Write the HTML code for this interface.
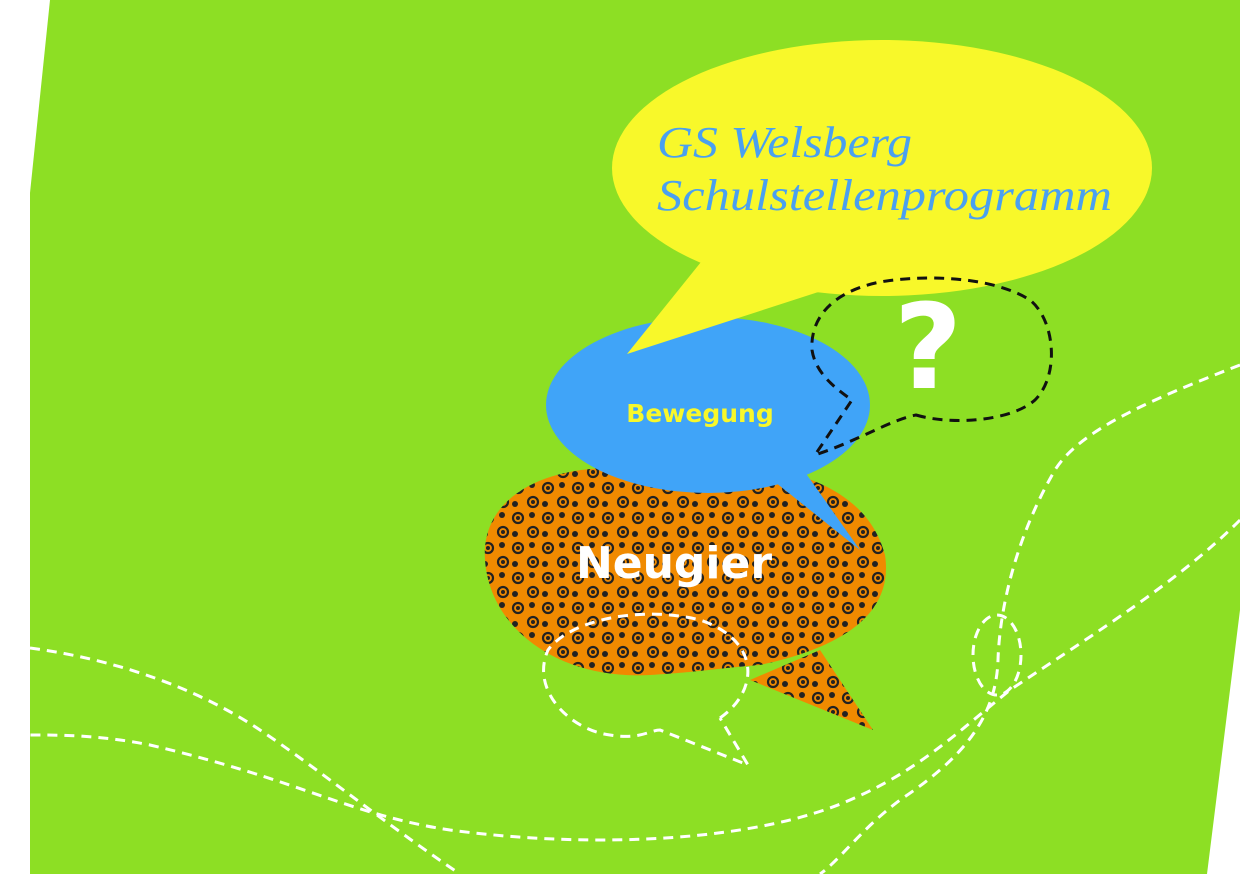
<!DOCTYPE html>
<html><head><meta charset="utf-8"><style>html,body{margin:0;padding:0;background:#fff}svg{display:block}</style></head>
<body>
<svg width="1240" height="874" viewBox="0 0 1240 874" xmlns="http://www.w3.org/2000/svg">
<defs>
<pattern id="pat" width="30" height="30" patternUnits="userSpaceOnUse">
<rect width="30" height="30" fill="#f08a00"/>
<g fill="none" stroke="#222" stroke-width="2.2">
<circle cx="8" cy="8" r="5"/><circle cx="23" cy="22" r="5"/>
</g>
<g fill="#222"><circle cx="8" cy="8" r="2"/><circle cx="23" cy="22" r="2"/><circle cx="22" cy="5" r="3"/><circle cx="5" cy="24" r="3"/></g>
</pattern>
</defs>
<polygon points="50,0 1240,0 1240,610 1207,874 30,874 30,193" fill="#8ddf24"/>
<g fill="none" stroke="#fff" stroke-width="3" stroke-dasharray="10,7">
<path d="M1240,365 C1150,400 1080,430 1055,470 C1020,530 1000,600 998,660 C996,720 960,760 900,800 C860,830 840,860 820,874"/>
<path d="M1240,520 C1180,580 1100,630 1010,690 C960,730 920,770 850,800 C760,840 600,850 450,830 C350,815 300,780 150,745 C100,735 60,735 30,735"/>
<path d="M30,648 C120,660 200,690 260,730 C320,770 380,820 460,874"/>
<ellipse cx="997" cy="655" rx="24" ry="40"/>
</g>
<ellipse cx="882" cy="168" rx="270" ry="128" fill="#f8f82a"/>
<path d="M750,680 L873,730 L820,650 Z" fill="url(#pat)"/>
<path d="M485,560 C480,490 560,460 640,470 C720,455 860,460 885,555 C895,620 830,650 760,665 C720,668 700,672 650,675 C560,680 490,630 485,560 Z" fill="url(#pat)"/>
<path d="M760,470 L860,550 L800,465 Z" fill="#40a4f8"/>
<ellipse cx="708" cy="405" rx="162" ry="88" fill="#40a4f8"/>
<path d="M627,354 L701,262 L860,270 L840,285 Z" fill="#f8f82a"/>
<g fill="none" stroke="#111" stroke-width="3" stroke-dasharray="10,7">
<path d="M916,415 C950,425 1010,422 1035,400 C1060,375 1055,320 1030,300 C990,275 920,275 880,282 C830,292 810,320 812,350 C815,370 830,385 852,400 L815,455 C860,440 890,420 916,415 Z"/>
</g>
<g fill="none" stroke="#fff" stroke-width="3" stroke-dasharray="10,7">
<path d="M720,718 C760,690 760,640 700,620 C640,605 570,620 548,650 C530,690 570,730 610,735 C640,740 650,730 660,730 L748,765 L720,718"/>
</g>
<text x="928" y="388" font-family="DejaVu Sans, sans-serif" font-weight="bold" font-size="118" fill="#fff" text-anchor="middle">?</text>
<text x="700" y="422" font-family="DejaVu Sans, sans-serif" font-weight="bold" font-size="25" fill="#f8f82a" text-anchor="middle">Bewegung</text>
<text x="674" y="578" font-family="DejaVu Sans, sans-serif" font-weight="bold" font-size="44" fill="#fff" text-anchor="middle">Neugier</text>
<text x="657" y="157" font-family="Liberation Serif, serif" font-style="italic" font-size="44" fill="#4aa0f0" textLength="255" lengthAdjust="spacingAndGlyphs">GS Welsberg</text>
<text x="657" y="210" font-family="Liberation Serif, serif" font-style="italic" font-size="44" fill="#4aa0f0" textLength="455" lengthAdjust="spacingAndGlyphs">Schulstellenprogramm</text>
</svg>
</body></html>
